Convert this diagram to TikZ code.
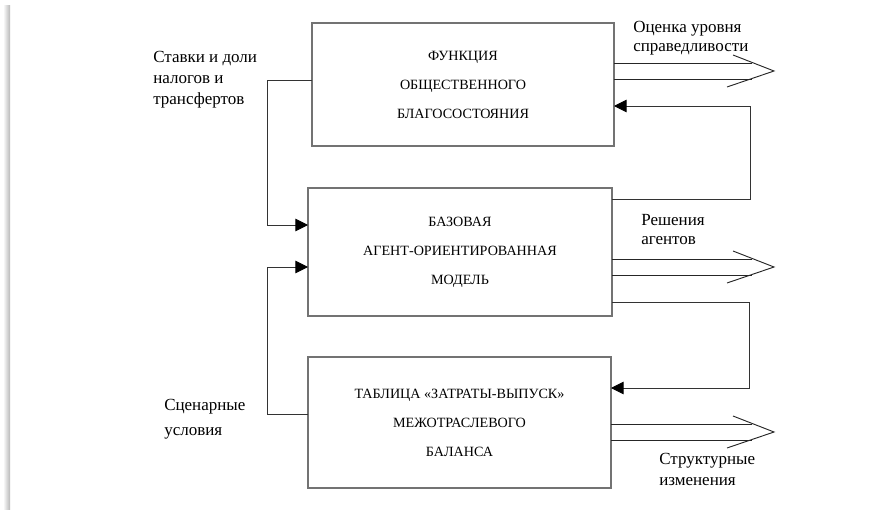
\documentclass[tikz,border=0pt]{standalone}
\usepackage{fontspec}
\setmainfont{Liberation Serif}
\usetikzlibrary{arrows.meta,calc}

\begin{document}
\begin{tikzpicture}[x=0.75pt,y=-0.75pt,
  blok/.style={draw=black!55,line width=2.2pt,outer sep=0pt,align=center,
    font=\fontsize{10.6}{21.75}\selectfont},
  lbl/.style={anchor=base west,align=left,inner sep=0pt},
  svyaz/.style={draw=black!80,line width=0.7pt},
  strelka/.style={svyaz,-{Triangle[length=9.5pt,width=9.5pt,color=black]}},
  dvoinaya/.style={draw=black!85,line width=0.7pt}]
\useasboundingbox (0,0) rectangle (886,510);
% page edge shadow
\shade[left color=white,right color=black!28] (3,6) rectangle (10,510);

% blocks
\node[blok,minimum width=226.5pt,minimum height=92.25pt] (fun) at (463,84.5)
  {ФУНКЦИЯ\\ОБЩЕСТВЕННОГО\\БЛАГОСОСТОЯНИЯ};
\node[blok,minimum width=228pt,minimum height=96pt] (agent) at (460,252)
  {БАЗОВАЯ\\АГЕНТ-ОРИЕНТИРОВАННАЯ\\МОДЕЛЬ};
\node[blok,minimum width=227.25pt,minimum height=98.25pt] (table) at (459.5,422.5)
  {ТАБЛИЦА «ЗАТРАТЫ-ВЫПУСК»\\МЕЖОТРАСЛЕВОГО\\БАЛАНСА};

% labels (base = last line)
\node[lbl,font=\fontsize{12.75}{15.75}\selectfont] (stavki) at (153,104)
  {Ставки и доли\\налогов и\\трансфертов};
\node[lbl,font=\fontsize{12.75}{18.4}\selectfont] (scen) at (164,435)
  {Сценарные\\условия};
\node[lbl,font=\fontsize{12.75}{14.25}\selectfont] (ocenka) at (633,52)
  {Оценка уровня\\справедливости};
\node[lbl,font=\fontsize{12.75}{14.25}\selectfont] (resh) at (641,244)
  {Решения\\агентов};
\node[lbl,font=\fontsize{12.75}{15.75}\selectfont] (struct) at (659,485)
  {Структурные\\изменения};

% feedback links
\draw[strelka] (fun.west |- 0,80) -- ++(-45,0) |- (agent.west |- 0,225);
\draw[strelka] (table.west |- 0,414) -- ++(-41,0) |- (agent.west |- 0,267);
\draw[strelka] (agent.east |- 0,199) -- ++(138,0) |- (fun.east |- 0,106);
\draw[strelka] (agent.east |- 0,302) -- ++(137,0) |- (table.east |- 0,388);

% wide output arrows
\foreach \n/\ya in {fun/63,agent/259,table/424}{
  \coordinate (tip\n) at (774,{\ya+8});
  \draw[dvoinaya] (\n.east |- 0,\ya) -- ($(tip\n)+(-22,-8)$);
  \draw[dvoinaya] (\n.east |- 0,{\ya+16}) -- ($(tip\n)+(-22,8)$);
  \draw[dvoinaya] ($(tip\n)+(-41,-16)$) -- (tip\n) -- ($(tip\n)+(-47,16)$);
}
\end{tikzpicture}
\end{document}
